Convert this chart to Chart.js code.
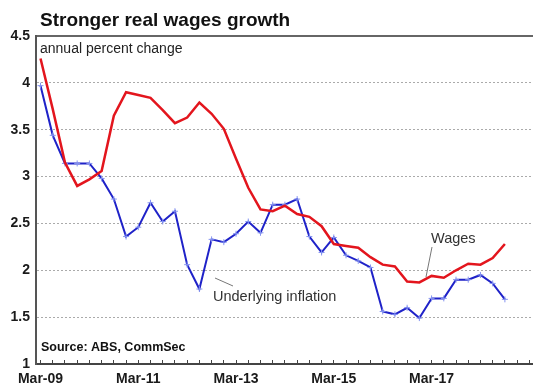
<!DOCTYPE html>
<html>
<head>
<meta charset="utf-8">
<script src="https://cdn.jsdelivr.net/npm/chart.js@4.4.0/dist/chart.umd.min.js"></script>
<style>
  html, body { margin: 0; padding: 0; background: #fff; }
</style>
</head>
<body>
<canvas id="wagesChart" width="533" height="387"></canvas>
<script>
// Quarterly series, Mar-09 to Sep-18
const quarters = [];
for (let y = 9; y <= 18; y++) {
  ["Mar", "Jun", "Sep", "Dec"].forEach((m) => quarters.push(m + "-" + String(y).padStart(2, "0")));
}
quarters.length = 39;

const wages = [4.26, 3.72, 3.15, 2.90, 2.97, 3.06, 3.65, 3.90, 3.87, 3.84,
  3.71, 3.57, 3.63, 3.79, 3.67, 3.51, 3.19, 2.88, 2.65, 2.63,
  2.69, 2.60, 2.57, 2.47, 2.28, 2.26, 2.24, 2.14, 2.06, 2.04,
  1.88, 1.87, 1.94, 1.92, 2.00, 2.07, 2.06, 2.13, 2.28];

const inflation = [3.97, 3.44, 3.14, 3.14, 3.14, 2.98, 2.76, 2.36, 2.46, 2.72,
  2.52, 2.63, 2.06, 1.80, 2.33, 2.30, 2.39, 2.52, 2.40, 2.70,
  2.70, 2.76, 2.36, 2.19, 2.35, 2.16, 2.10, 2.03, 1.56, 1.53,
  1.60, 1.49, 1.70, 1.70, 1.90, 1.90, 1.95, 1.86, 1.69];

// Labelled ticks, one every 8 quarters
const xTickLabels = ["Mar-09", "Mar-11", "Mar-13", "Mar-15", "Mar-17"];
const yMin = 1, yMax = 4.5, yStep = 0.5;

const FONT = "Arial, 'Liberation Sans', sans-serif";

const toPoints = (arr) => arr.map((v, i) => ({ x: i, y: v }));

// Title, notes and series labels drawn on top
const annotations = {
  id: "annotations",
  afterDraw(chart) {
    const { ctx, chartArea } = chart;
    const L = chartArea.left;
    ctx.save();
    ctx.textBaseline = "alphabetic";
    ctx.textAlign = "left";

    ctx.fillStyle = "#111";
    ctx.font = "bold 19px " + FONT;
    ctx.fillText("Stronger real wages growth", 40, 26);

    ctx.fillStyle = "#222";
    ctx.font = "14px " + FONT;
    ctx.fillText("annual percent change", L + 4, 53);

    ctx.font = "bold 12.5px " + FONT;
    ctx.fillStyle = "#111";
    ctx.fillText("Source: ABS, CommSec", L + 5, 351);

    ctx.fillStyle = "#333";
    ctx.font = "14.5px " + FONT;
    ctx.fillText("Wages", 431, 243);
    ctx.fillText("Underlying inflation", 213, 301);

    ctx.strokeStyle = "#777";
    ctx.lineWidth = 1;
    ctx.beginPath();
    ctx.moveTo(432, 247);
    ctx.lineTo(426, 277);
    ctx.moveTo(215, 278);
    ctx.lineTo(233, 286);
    ctx.stroke();
    ctx.restore();
  },
};

const ctx = document.getElementById("wagesChart").getContext("2d");

const wagesChart = new Chart(ctx, {
  type: "line",
  data: {
    labels: quarters,
    datasets: [
      {
        label: "Wages",
        data: toPoints(wages),
        borderColor: "#e3151d",
        borderWidth: 2.5,
        pointRadius: 0,
        tension: 0,
      },
      {
        label: "Underlying inflation",
        data: toPoints(inflation),
        borderColor: "#1f22c8",
        borderWidth: 2,
        pointStyle: "cross",
        pointRadius: 3,
        pointBorderColor: "#8493f0",
        pointBorderWidth: 1,
        tension: 0,
      },
    ],
  },
  options: {
    responsive: false,
    animation: false,
    layout: { autoPadding: false, padding: { top: 36, left: 0, right: 0, bottom: 0 } },
    plugins: {
      legend: { display: false },
      tooltip: { enabled: false },
    },
    scales: {
      x: {
        type: "linear",
        min: -0.37,
        max: 40.3,
        afterFit: (scale) => {
          scale.height = 23;
          scale.paddingRight = 0;
          scale.paddingLeft = 0;
        },
        ticks: {
          stepSize: 1,
          autoSkip: false,
          includeBounds: false,
          maxRotation: 0,
          padding: 11,
          color: "#1a1a1a",
          font: { family: FONT, size: 14, weight: "bold" },
          callback: (value) => (value % 8 === 0 ? xTickLabels[value / 8] ?? "" : ""),
        },
        grid: {
          drawOnChartArea: false,
          tickLength: -4,
          tickColor: "#444",
          tickWidth: 1,
        },
        border: { color: "#444", width: 2 },
      },
      y: {
        min: yMin,
        max: yMax,
        afterFit: (scale) => { scale.width = 36; },
        ticks: {
          stepSize: yStep,
          padding: 6,
          color: "#1a1a1a",
          font: { family: FONT, size: 14, weight: "bold" },
          callback: (value) => String(value),
        },
        grid: {
          drawTicks: false,
          color: (c) => (c.tick && c.tick.value === yMax ? "#666" : "#aaa"),
          lineWidth: (c) => (c.tick && c.tick.value === yMax ? 2 : 1),
        },
        border: {
          color: "#555",
          width: 2,
          dash: (c) => (c.tick && c.tick.value === yMax ? [] : [2, 2]),
        },
      },
    },
  },
  plugins: [annotations],
});
</script>
</body>
</html>
